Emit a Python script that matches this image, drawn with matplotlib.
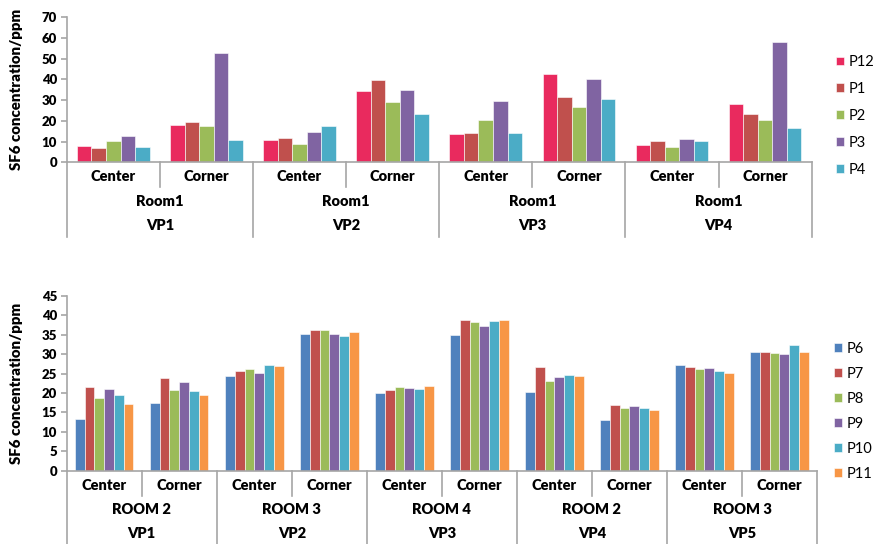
import numpy as np
import matplotlib
matplotlib.use('Agg')
from matplotlib import pyplot as plt
from matplotlib import transforms

plt.rcParams['font.family'] = ['Lato', 'DejaVu Sans']

positions = ['Center', 'Corner']

# upper chart
top_vps = ['VP1', 'VP2', 'VP3', 'VP4']
top_rooms = ['Room1', 'Room1', 'Room1', 'Room1']
top_series = ['P12', 'P1', 'P2', 'P3', 'P4']
top_colors = ['#E92A5E', '#C0504D', '#9BBB59', '#8064A2', '#4BACC6']
p12 = [7.9, 17.9, 10.6, 34.4, 13.7, 42.5, 8.5, 28.0]
p1 = [6.9, 19.3, 11.9, 39.6, 14.2, 31.5, 10.3, 23.3]
p2 = [10.1, 17.5, 8.9, 29.0, 20.6, 26.9, 7.6, 20.6]
p3 = [12.6, 52.8, 14.5, 34.9, 29.4, 40.1, 11.1, 57.9]
p4 = [7.4, 10.8, 17.7, 23.2, 14.3, 30.7, 10.1, 16.6]
top_values = [p12, p1, p2, p3, p4]

# lower chart
bot_vps = ['VP1', 'VP2', 'VP3', 'VP4', 'VP5']
bot_rooms = ['ROOM 2', 'ROOM 3', 'ROOM 4', 'ROOM 2', 'ROOM 3']
bot_series = ['P6', 'P7', 'P8', 'P9', 'P10', 'P11']
bot_colors = ['#4F81BD', '#C0504D', '#9BBB59', '#8064A2', '#4BACC6', '#F79646']
p6 = [13.2, 17.4, 24.3, 35.3, 19.9, 34.9, 20.4, 13.1, 27.1, 30.7]
p7 = [21.6, 23.8, 25.8, 36.2, 20.8, 38.7, 26.6, 17.0, 26.6, 30.7]
p8 = [18.7, 20.9, 26.2, 36.2, 21.6, 38.2, 23.1, 16.1, 26.1, 30.4]
p9 = [21.0, 22.8, 25.1, 35.2, 21.3, 37.4, 24.2, 16.6, 26.5, 30.1]
p10 = [19.4, 20.5, 27.1, 34.8, 21.0, 38.6, 24.6, 16.1, 25.7, 32.3]
p11 = [17.3, 19.5, 26.9, 35.6, 21.8, 38.7, 24.4, 15.6, 25.1, 30.5]
bot_values = [p6, p7, p8, p9, p10, p11]

AXIS_GREY = '#A6A6A6'
DPI = 100


def draw_panel(ax, vps, rooms, series, values, colors, ymax, ystep, depth_px,
               legend_anchor, legend_spacing):
    n = len(vps) * 2
    x = np.arange(n)
    k = len(series)
    bw = 0.78 / k
    for i, (name, vals) in enumerate(zip(series, values)):
        ax.bar(x - 0.39 + bw * (i + 0.5), vals, bw, color=colors[i],
               edgecolor='white', linewidth=0.4, label=name)

    ax.set_xlim(-0.5, n - 0.5)
    ax.set_ylim(0, ymax)
    ax.set_yticks(np.arange(0, ymax + 0.1, ystep))
    ax.set_xticks([])
    for side in ['top', 'right']:
        ax.spines[side].set_visible(False)
    for side in ['left', 'bottom']:
        ax.spines[side].set_color(AXIS_GREY)
        ax.spines[side].set_linewidth(1.2)
    ax.tick_params(axis='y', colors=AXIS_GREY, length=4, width=1.2, labelcolor='black',
                   labelsize=9.5, pad=3)
    for t in ax.get_yticklabels():
        t.set_fontweight('heavy')

    ax.set_ylabel('SF6 concentration/ppm', fontsize=10.8, fontweight='heavy')
    ax.yaxis.set_label_coords(-0.058, 0.5)

    h_px = ax.get_position().height * ax.figure.get_figheight() * DPI
    frac = lambda px: -px / h_px
    tr = transforms.blended_transform_factory(ax.transData, ax.transAxes)

    # separators
    for b in range(len(vps) + 1):
        xb = -0.5 + 2 * b
        ax.plot([xb, xb], [0, frac(depth_px)], transform=tr, color=AXIS_GREY,
                lw=1.2, clip_on=False)
    for b in range(len(vps)):
        xb = 0.5 + 2 * b
        ax.plot([xb, xb], [0, frac(25)], transform=tr, color=AXIS_GREY,
                lw=1.2, clip_on=False)

    for i in range(n):
        ax.text(i, frac(14.5), positions[i % 2], transform=tr, ha='center',
                va='center', fontsize=10.5, fontweight='heavy')
    for g in range(len(vps)):
        ax.text(2 * g + 0.5, frac(39), rooms[g], transform=tr, ha='center',
                va='center', fontsize=10.5, fontweight='heavy')
        ax.text(2 * g + 0.5, frac(63), vps[g], transform=tr, ha='center',
                va='center', fontsize=10.5, fontweight='heavy')

    ax.legend(loc='center left', bbox_to_anchor=legend_anchor, frameon=False,
              fontsize=10.5, handlelength=0.55, handleheight=0.55,
              handletextpad=0.33, labelspacing=legend_spacing, borderaxespad=0,
              borderpad=0)


fig = plt.figure(figsize=(8.74, 5.44), dpi=DPI)
ax1 = fig.add_axes([0.0763, 0.7017, 0.8524, 0.2665])
ax2 = fig.add_axes([0.0763, 0.1347, 0.8585, 0.3212])

draw_panel(ax1, top_vps, top_rooms, top_series, top_values, top_colors,
           70, 10, 75, (1.0326, 0.32), 0.88)
draw_panel(ax2, bot_vps, bot_rooms, bot_series, bot_values, bot_colors,
           45, 5, 74, (1.0227, 0.34), 0.75)

fig.savefig('out.png', dpi=DPI)
